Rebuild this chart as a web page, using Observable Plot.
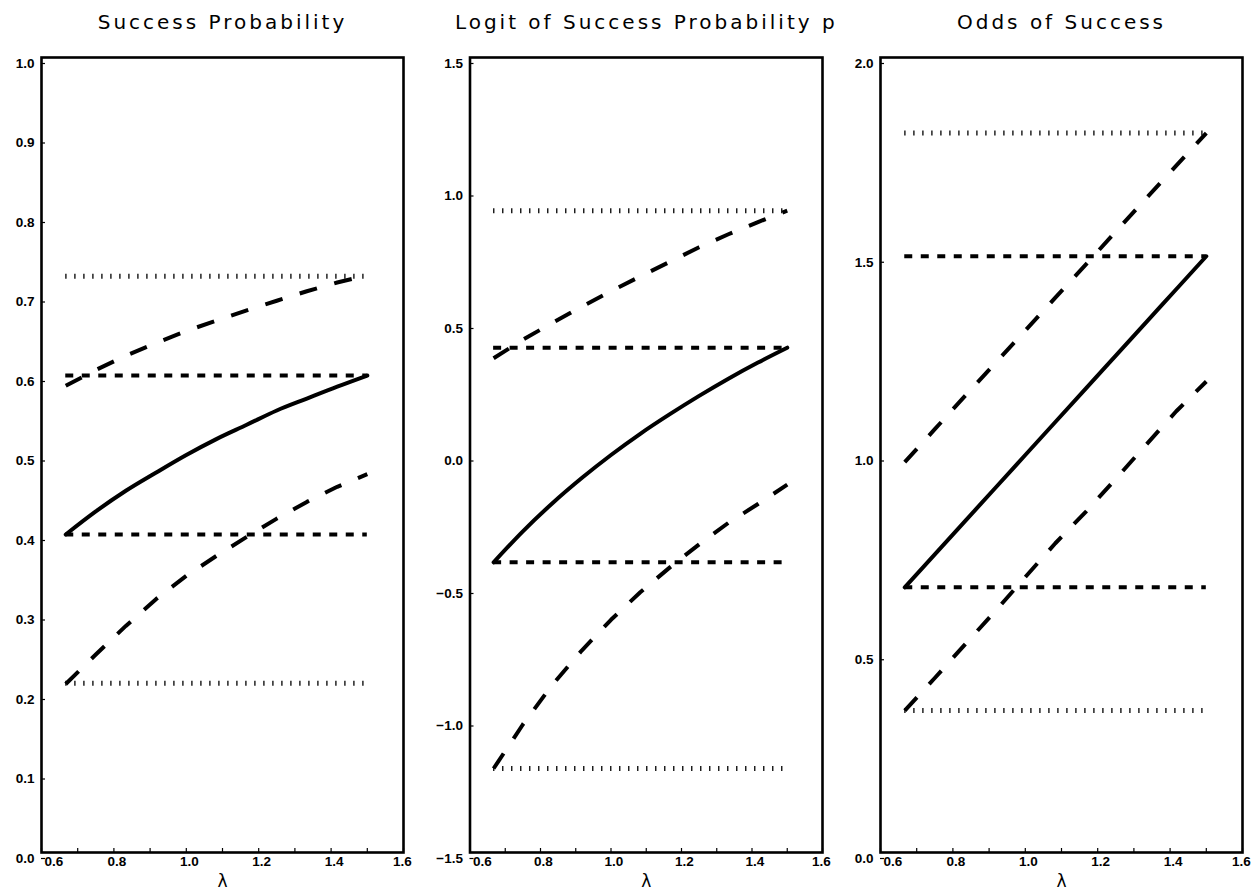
<!DOCTYPE html>
<html><head><meta charset="utf-8">
<script src="https://cdn.jsdelivr.net/npm/d3@7"></script>
<script src="https://cdn.jsdelivr.net/npm/@observablehq/plot@0.6"></script>
<style>
body{margin:0;background:#fff;}
#row{display:flex;width:1252px;height:892px;}
</style></head><body><div id="row"></div>
<script>
const lambda = [0.667, 0.75, 0.833, 0.917, 1.0, 1.083, 1.167, 1.25, 1.333, 1.417, 1.5];

// Panel 1: success probability
const probFit   = [0.400, 0.429, 0.455, 0.478, 0.500, 0.520, 0.538, 0.556, 0.571, 0.586, 0.600];
const probUpper = [0.587, 0.607, 0.625, 0.641, 0.656, 0.669, 0.682, 0.694, 0.706, 0.717, 0.726];
const probLower = [0.212, 0.249, 0.285, 0.319, 0.348, 0.373, 0.397, 0.420, 0.441, 0.460, 0.476];
const probDashedRefs = [0.4, 0.6];
const probDottedRefs = [0.213, 0.725];

// Panel 2: logit of success probability
const logitFit   = [-0.405, -0.288, -0.183, -0.087, 0.000, 0.080, 0.154, 0.223, 0.288, 0.349, 0.405];
const logitUpper = [0.365, 0.435, 0.498, 0.560, 0.618, 0.674, 0.729, 0.784, 0.833, 0.879, 0.922];
const logitLower = [-1.183, -1.017, -0.868, -0.738, -0.622, -0.518, -0.424, -0.337, -0.256, -0.185, -0.112];
const logitDashedRefs = [-0.405, 0.405];
const logitDottedRefs = [-1.183, 0.922];

// Panel 3: odds of success
const oddsFit   = [0.667, 0.750, 0.833, 0.917, 1.000, 1.083, 1.167, 1.250, 1.333, 1.417, 1.500];
const oddsUpper = [0.982, 1.065, 1.148, 1.231, 1.313, 1.396, 1.479, 1.562, 1.645, 1.728, 1.810];
const oddsLower = [0.357, 0.439, 0.523, 0.607, 0.693, 0.778, 0.857, 0.940, 1.025, 1.110, 1.185];
const oddsDashedRefs = [0.667, 1.5];
const oddsDottedRefs = [0.357, 1.81];

// Axes
const xTickLabels = [0.6, 0.8, 1.0, 1.2, 1.4, 1.6];
const xTickMarks = [0.6, 0.7, 0.8, 0.9, 1.0, 1.1, 1.2, 1.3, 1.4, 1.5, 1.6];
const probTicks = [0, 0.1, 0.2, 0.3, 0.4, 0.5, 0.6, 0.7, 0.8, 0.9, 1.0];
const logitTicks = [-1.5, -1.0, -0.5, 0, 0.5, 1.0, 1.5];
const oddsTicks = [0, 0.5, 1.0, 1.5, 2.0];
const titles = ["Success Probability", "Logit of Success Probability p", "Odds of Success"];
const xLabel = "λ";

const panels = [
  {title: titles[0], fit: probFit, upper: probUpper, lower: probLower, dashed: probDashedRefs, dotted: probDottedRefs,
   yDomain: [0, 1], yTicks: probTicks, width: 436, marginLeft: 41, marginRight: 33},
  {title: titles[1], fit: logitFit, upper: logitUpper, lower: logitLower, dashed: logitDashedRefs, dotted: logitDottedRefs,
   yDomain: [-1.5, 1.5], yTicks: logitTicks, width: 414, marginLeft: 33.5, marginRight: 28},
  {title: titles[2], fit: oddsFit, upper: oddsUpper, lower: oddsLower, dashed: oddsDashedRefs, dotted: oddsDottedRefs,
   yDomain: [0, 2], yTicks: oddsTicks, width: 402, marginLeft: 30, marginRight: 10}
];

const lamStart = lambda[0], lamEnd = lambda[lambda.length - 1];
const toRows = (vals) => lambda.map((l, i) => ({l, v: vals[i]}));
const fmt = d3.format(".1f");
const tickText = {tickSize: 0, tickPadding: 4, tickFormat: fmt, label: null};

for (const p of panels) {
  const svg = Plot.plot({
    width: p.width,
    height: 892,
    marginTop: 57,
    marginBottom: 40,
    marginLeft: p.marginLeft,
    marginRight: p.marginRight,
    style: {background: "#fff", color: "#000"},
    x: {domain: [0.6, 1.6]},
    y: {domain: p.yDomain},
    marks: [
      // reference lines
      Plot.ruleY(p.dotted, {x1: lamStart, x2: lamEnd, stroke: "#000", strokeWidth: 5, strokeDasharray: "1.3,7.7"}),
      Plot.ruleY(p.dashed, {x1: lamStart, x2: lamEnd, stroke: "#000", strokeWidth: 4, strokeDasharray: "8,8.5"}),
      // bounds
      Plot.line(toRows(p.upper), {x: "l", y: "v", stroke: "#000", strokeWidth: 4, strokeDasharray: "18,18", strokeLinecap: "butt"}),
      Plot.line(toRows(p.lower), {x: "l", y: "v", stroke: "#000", strokeWidth: 4, strokeDasharray: "18,18", strokeLinecap: "butt"}),
      // fitted curve
      Plot.line(toRows(p.fit), {x: "l", y: "v", stroke: "#000", strokeWidth: 4, curve: "monotone-x"}),
      // axes
      Plot.axisX(xTickMarks, {tickSize: -4, tickFormat: () => "", label: null, strokeWidth: 1.2}),
      Plot.axisX(xTickLabels.slice(0, 1), {...tickText, textAnchor: "start", dx: 3}),
      Plot.axisX(xTickLabels.slice(1, -1), {...tickText, dx: 3}),
      Plot.axisX(xTickLabels.slice(-1), {...tickText, dx: -1}),
      Plot.axisY(p.yTicks, {...tickText, tickSize: -4, tickPadding: 11, dy: 6, strokeWidth: 1.2}),
      Plot.frame({stroke: "#000", strokeWidth: 2.6}),
      Plot.text([xLabel], {frameAnchor: "bottom", dy: 34, fontSize: 17, fontFamily: "DejaVu Sans"}),
      Plot.text([p.title], {frameAnchor: "top", dy: -43, fontSize: 20, fontFamily: "DejaVu Sans"})
    ]
  });
  d3.select(svg).selectAll("text").each(function() {
    const t = this.textContent;
    const s = d3.select(this);
    if (t === p.title) {
      s.style("letter-spacing", "3px");
    } else if (t !== xLabel && t !== "") {
      s.style("font-size", "13.5px").style("font-weight", "bold")
       .style("font-family", "'Liberation Sans', Arial, sans-serif");
    }
  });
  document.getElementById("row").appendChild(svg);
}
</script></body></html>
